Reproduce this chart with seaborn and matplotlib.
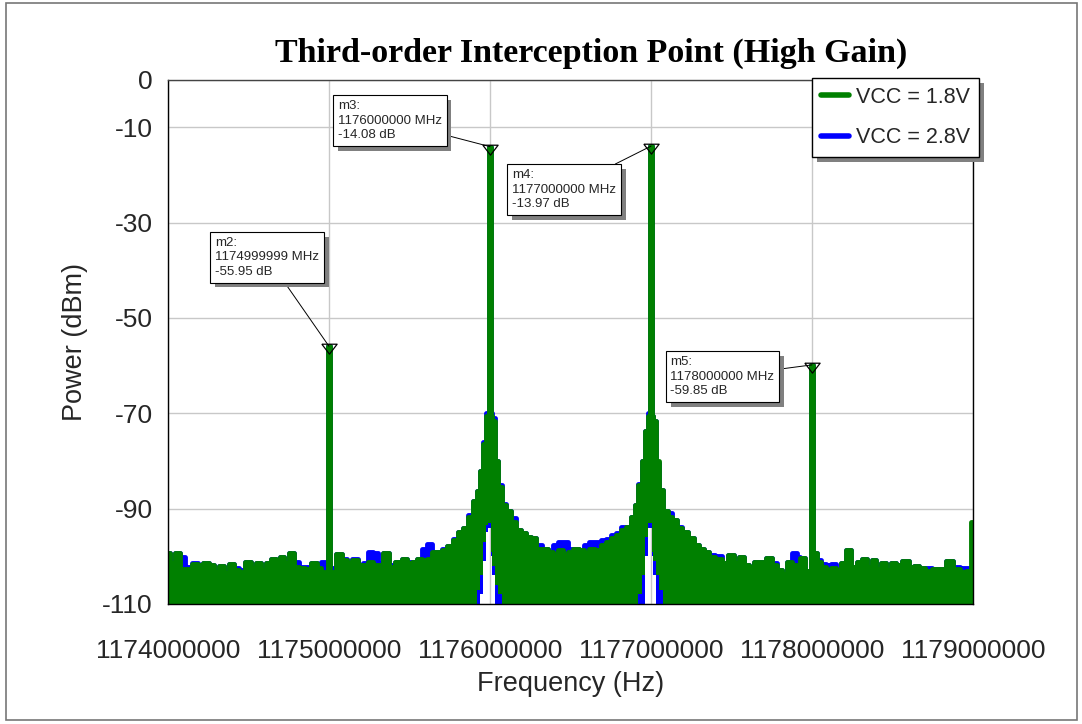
import numpy as np
import pandas as pd
import seaborn as sns
import matplotlib.pyplot as plt
import matplotlib.patheffects as pe
from matplotlib.lines import Line2D
from matplotlib.patches import Rectangle

# spectrum (MHz / dBm)
freq_mhz = [
    1174.000, 1174.023, 1174.060, 1174.085, 1174.126, 1174.168, 1174.199, 1174.240, 1174.271, 1174.302,
    1174.333, 1174.364, 1174.395, 1174.427, 1174.458, 1174.499, 1174.530, 1174.561, 1174.592, 1174.623,
    1174.660, 1174.685, 1174.710, 1174.737, 1174.768, 1174.799, 1174.830, 1174.872, 1174.909, 1174.938,
    1174.965, 1174.993, 1175.000, 1175.007, 1175.027, 1175.058, 1175.099, 1175.130, 1175.161, 1175.203,
    1175.224, 1175.255, 1175.286, 1175.317, 1175.358, 1175.389, 1175.430, 1175.472, 1175.503, 1175.534,
    1175.565, 1175.596, 1175.627, 1175.658, 1175.689, 1175.720, 1175.752, 1175.783, 1175.814, 1175.845,
    1175.876, 1175.907, 1175.927, 1175.948, 1175.969, 1175.986, 1175.993, 1176.000, 1176.007, 1176.021,
    1176.042, 1176.062, 1176.083, 1176.114, 1176.145, 1176.176, 1176.207, 1176.238, 1176.269, 1176.300,
    1176.342, 1176.373, 1176.404, 1176.435, 1176.466, 1176.497, 1176.538, 1176.570, 1176.601, 1176.632,
    1176.673, 1176.704, 1176.735, 1176.766, 1176.797, 1176.828, 1176.859, 1176.890, 1176.911, 1176.932,
    1176.952, 1176.973, 1176.993, 1177.000, 1177.007, 1177.021, 1177.035, 1177.066, 1177.087, 1177.118,
    1177.149, 1177.180, 1177.211, 1177.253, 1177.284, 1177.315, 1177.346, 1177.377, 1177.418, 1177.460,
    1177.501, 1177.532, 1177.563, 1177.594, 1177.625, 1177.656, 1177.688, 1177.735, 1177.770, 1177.801,
    1177.832, 1177.863, 1177.894, 1177.915, 1177.940, 1177.967, 1177.993, 1178.000, 1178.007, 1178.019,
    1178.039, 1178.070, 1178.101, 1178.132, 1178.163, 1178.194, 1178.230, 1178.257, 1178.298, 1178.329,
    1178.360, 1178.381, 1178.412, 1178.443, 1178.474, 1178.505, 1178.536, 1178.588, 1178.619, 1178.650,
    1178.681, 1178.722, 1178.764, 1178.806, 1178.857, 1178.899, 1178.940, 1178.971, 1179.000,
]

vcc18_top = [
    -99.4, -101.5, -99.2, -102.6, -102.7, -101.7, -101.9, -101.5, -101.9, -103.3,
    -102.0, -103.6, -101.7, -102.9, -103.3, -101.2, -102.4, -101.5, -102.9, -101.5,
    -100.5, -102.4, -100.1, -101.5, -99.3, -102.2, -102.4, -102.7, -101.5, -102.4,
    -103.3, -103.3, -55.95, -103.3, -103.3, -99.6, -100.8, -101.5, -100.8, -101.9,
    -101.9, -101.2, -101.9, -101.9, -99.4, -102.2, -101.2, -100.5, -101.5, -101.2,
    -100.5, -100.8, -100.5, -99.1, -99.1, -98.7, -97.8, -96.6, -94.8, -94.1,
    -91.7, -88.5, -86.4, -82.2, -76.5, -70.5, -71.0, -14.08, -70.5, -71.7,
    -80.1, -85.4, -89.2, -90.6, -92.7, -94.5, -95.2, -95.9, -96.2, -98.4,
    -98.4, -99.1, -99.8, -98.7, -99.8, -99.1, -98.4, -98.7, -99.4, -98.4,
    -98.7, -97.6, -96.9, -96.2, -95.5, -94.5, -93.8, -91.7, -89.2, -85.0,
    -80.1, -73.8, -70.5, -13.97, -70.5, -71.7, -80.1, -86.1, -90.6, -91.7,
    -92.4, -94.1, -94.8, -96.2, -97.6, -98.4, -99.1, -100.1, -100.5, -101.5,
    -99.8, -101.5, -100.1, -101.9, -102.2, -101.2, -101.2, -100.3, -101.9, -102.9,
    -103.8, -101.2, -101.9, -102.9, -100.3, -103.1, -103.1, -59.85, -99.4, -99.4,
    -101.2, -102.2, -102.9, -102.4, -102.9, -101.5, -98.6, -102.2, -101.2, -100.6,
    -102.2, -100.8, -102.6, -101.5, -102.9, -101.3, -101.9, -100.9, -102.2, -102.0,
    -102.4, -103.1, -102.6, -102.7, -100.9, -102.7, -103.3, -103.1, -92.7,
]

vcc28_top = [
    -99.4, -101.0, -99.2, -100.2, -102.2, -101.5, -101.9, -101.3, -101.9, -103.0,
    -102.0, -103.2, -101.7, -102.4, -102.9, -101.2, -102.2, -101.5, -102.6, -101.5,
    -100.5, -102.0, -100.1, -101.5, -99.3, -101.2, -102.2, -102.2, -101.5, -102.0,
    -101.2, -102.4, -55.95, -102.4, -102.4, -99.6, -100.5, -101.5, -100.5, -101.9,
    -101.5, -99.1, -99.4, -101.5, -99.4, -101.9, -101.2, -100.5, -101.2, -101.2,
    -100.5, -98.4, -97.5, -99.1, -99.1, -98.5, -97.8, -96.3, -94.8, -94.1,
    -91.3, -88.3, -86.4, -82.2, -76.0, -70.0, -70.5, -14.08, -70.0, -71.0,
    -80.1, -85.0, -89.0, -90.6, -92.0, -94.5, -95.2, -95.9, -96.2, -97.6,
    -98.4, -99.1, -97.6, -96.9, -96.9, -98.4, -98.4, -98.7, -97.6, -96.9,
    -96.9, -96.6, -96.3, -95.5, -95.2, -93.8, -93.8, -91.7, -89.2, -84.8,
    -80.1, -73.8, -70.0, -13.97, -70.5, -71.7, -80.5, -86.1, -90.6, -91.0,
    -92.4, -93.8, -94.8, -96.2, -97.6, -98.4, -99.1, -99.8, -100.0, -101.5,
    -99.8, -101.5, -100.1, -101.9, -102.2, -101.2, -101.2, -100.3, -101.5, -102.9,
    -103.8, -101.2, -99.4, -100.1, -100.3, -103.1, -103.1, -59.85, -99.4, -99.4,
    -100.8, -101.7, -101.9, -101.7, -102.9, -101.5, -98.6, -102.2, -101.2, -100.6,
    -102.2, -100.8, -102.2, -101.5, -102.9, -101.3, -101.9, -100.9, -102.2, -102.0,
    -102.4, -102.4, -102.6, -102.7, -100.9, -102.2, -102.4, -102.4, -102.4,
]

# bottom of the trace under the two carriers (white notch), elsewhere it reaches the floor
vcc18_notch = {1175.907: -110, 1175.927: -107, 1175.948: -104, 1175.969: -97, 1175.986: -93.5,
               1175.993: -93, 1176.000: -93, 1176.007: -99, 1176.021: -102, 1176.042: -106,
               1176.062: -108,
               1176.911: -110, 1176.932: -108, 1176.952: -104, 1176.973: -96, 1176.993: -93,
               1177.000: -93, 1177.007: -99, 1177.021: -101, 1177.035: -104, 1177.066: -107}
vcc28_notch = {1175.948: -108, 1175.969: -101, 1175.986: -95, 1175.993: -94, 1176.000: -94,
               1176.007: -100, 1176.021: -104,
               1176.973: -100, 1176.993: -94, 1177.000: -94, 1177.007: -100, 1177.021: -104}
floor_level = -112

# markers
marker_names = ["m2", "m3", "m4", "m5"]
marker_freq = [1174999999, 1176000000, 1177000000, 1178000000]
marker_level = [-55.95, -14.08, -13.97, -59.85]
label_offsets = [(-82, 79), (-109.5, 33.7), (-100, -16.5), (-102, 6.4)]  # points

freq_ticks = [1174000000, 1175000000, 1176000000, 1177000000, 1178000000, 1179000000]
level_ticks = [0, -10, -30, -50, -70, -90, -110]

GREEN = "#008000"
BLUE = "#0000ff"
lab18 = "VCC = 1.8V"
lab28 = "VCC = 2.8V"

sns.set_style("white")
plt.rcParams["font.family"] = ["Liberation Sans", "DejaVu Sans"]

freq_hz = [f * 1e6 for f in freq_mhz]
low18 = [vcc18_notch.get(f, floor_level) for f in freq_mhz]
low28 = [vcc28_notch.get(f, floor_level) for f in freq_mhz]
df = pd.DataFrame({
    "freq": freq_hz * 2,
    "level": vcc18_top + vcc28_top,
    "series": [lab18] * len(freq_hz) + [lab28] * len(freq_hz),
})

fig = plt.figure(figsize=(10.82, 7.24), dpi=100)
ax = fig.add_axes([168 / 1082, 1 - 604 / 724, 805 / 1082, 524.5 / 724])

# blue first, green on top
ax.fill_between(freq_hz, low28, vcc28_top, step="mid", color=BLUE, lw=0, zorder=2)
sns.lineplot(data=df[df.series == lab28], x="freq", y="level", color=BLUE, lw=3.5,
             drawstyle="steps-mid", estimator=None, errorbar=None, ax=ax, zorder=2.1,
             solid_joinstyle="round", solid_capstyle="round")
ax.fill_between(freq_hz, low18, vcc18_top, step="mid", color=GREEN, lw=0, zorder=2.2)
sns.lineplot(data=df[df.series == lab18], x="freq", y="level", color=GREEN, lw=3.5,
             drawstyle="steps-mid", estimator=None, errorbar=None, ax=ax, zorder=2.3,
             solid_joinstyle="round", solid_capstyle="round")

# marker triangles
tri = [(-1, 0.3), (1, 0.3), (0, -1), (-1, 0.3)]
ax.plot(marker_freq, marker_level, linestyle="none", marker=tri, ms=11,
        mfc="none", mec="black", mew=0.9, zorder=5)

for name, f, v, off in zip(marker_names, marker_freq, marker_level, label_offsets):
    txt = f"{name}:\n{f} MHz\n{v:.2f} dB"
    ann = ax.annotate(txt, xy=(f, v), xytext=off, textcoords="offset points",
                      ha="left", va="top", fontsize=9.5, linespacing=1.3, zorder=6,
                      bbox=dict(boxstyle="square,pad=0.35", fc="white", ec="black", lw=0.8),
                      arrowprops=dict(arrowstyle="-", color="black", lw=0.7,
                                      shrinkA=0, shrinkB=0))
    ann.get_bbox_patch().set_path_effects(
        [pe.withSimplePatchShadow(offset=(3.5, -3.5), shadow_rgbFace="#808080", alpha=1)])

ax.set_xlim(freq_ticks[0], freq_ticks[-1])
ax.set_ylim(-110, 0)
ax.set_xticks(freq_ticks)
ax.set_xticklabels([str(t) for t in freq_ticks])
ax.set_yticks(level_ticks)
ax.set_yticklabels([str(t) for t in level_ticks])
ax.tick_params(axis="both", length=0, labelsize=19)
ax.tick_params(axis="x", pad=25)
ax.tick_params(axis="y", pad=11)
ax.grid(True, color="#c8c8c8", lw=1)
ax.set_axisbelow(True)
for s in ax.spines.values():
    s.set_color("black")
    s.set_linewidth(1)
    s.set_visible(True)
ax.spines["top"].set_color("#444444")

ax.set_xlabel("Frequency (Hz)", fontsize=19.5, labelpad=6)
ax.set_ylabel("Power (dBm)", fontsize=19.5, labelpad=10)

fig.text(591.5 / 1082, 1 - 53 / 724, "Third-order Interception Point (High Gain)",
         ha="center", va="center", fontsize=24.5, fontweight="bold", color="black",
         family=["Liberation Serif", "DejaVu Serif"])

handles = [Line2D([], [], color=GREEN, lw=4), Line2D([], [], color=BLUE, lw=4)]
leg = ax.legend(handles, [lab18, lab28], loc="upper right",
                bbox_to_anchor=(979 / 1082, 1 - 78.3 / 724), bbox_transform=fig.transFigure,
                fontsize=15.5, frameon=True, fancybox=False, framealpha=1, edgecolor="black",
                borderpad=0.4, labelspacing=0.9, handlelength=1.3, handletextpad=0.35,
                borderaxespad=0)
leg.get_frame().set_linewidth(1)
leg.get_frame().set_path_effects(
    [pe.withSimplePatchShadow(offset=(3.5, -3.5), shadow_rgbFace="#808080", alpha=1)])
leg.set_zorder(7)

fig.add_artist(Rectangle((6 / 1082, 1 - 720 / 724), 1071 / 1082, 716.7 / 724,
                         transform=fig.transFigure, fill=False, ec="#777777", lw=1.2))

fig.savefig("out.png", dpi=100)
